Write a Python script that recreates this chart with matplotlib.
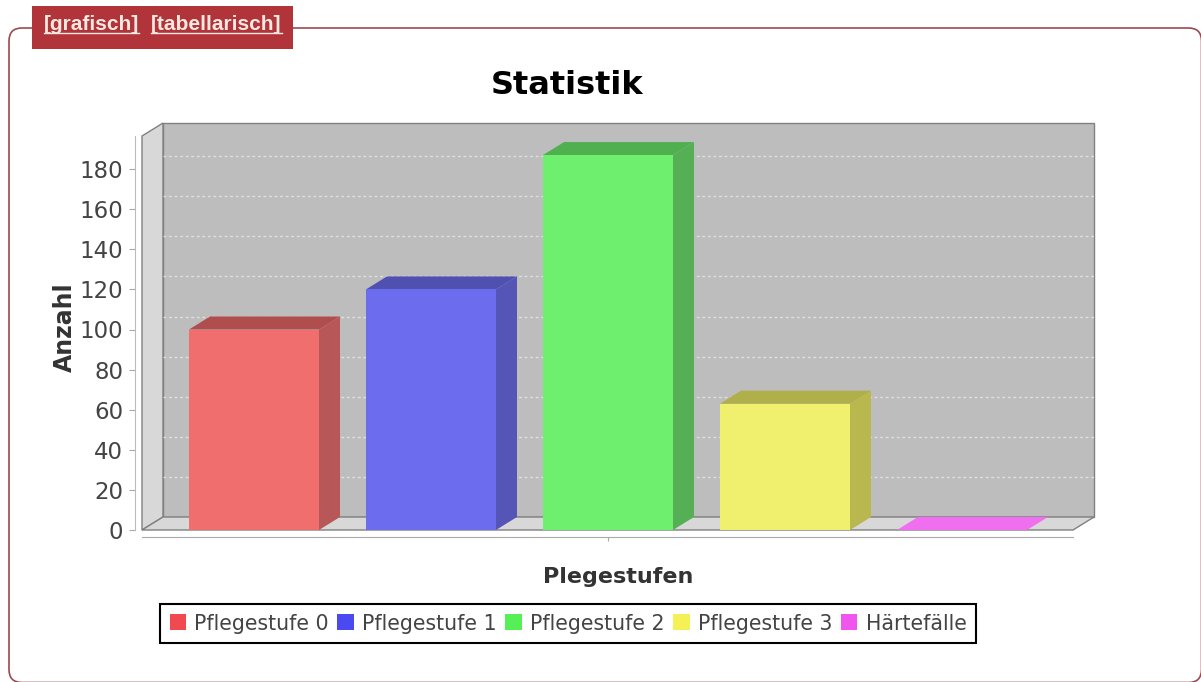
import numpy as np
import matplotlib
matplotlib.use('Agg')
import matplotlib.pyplot as plt
from matplotlib.patches import Polygon, Rectangle, FancyBboxPatch, Patch

categories = ['Pflegestufe 0', 'Pflegestufe 1', 'Pflegestufe 2', 'Pflegestufe 3', 'Härtefälle']
values = [100, 120, 187, 63, 0]
front_colors = ['#F06E6E', '#6C6CEE', '#6EF06E', '#F0F06E', '#F06EF0']
side_colors = ['#B85757', '#5555B8', '#55B055', '#B8B84E', '#B855B8']
top_colors = ['#B04E4E', '#5050B0', '#50B050', '#B0B04A', '#F06EF0']
legend_colors = ['#F04A50', '#4A4AF0', '#55F055', '#F5F055', '#F055F0']
yticks = list(range(0, 181, 20))

W, H = 1201, 682
fig = plt.figure(figsize=(W / 100, H / 100), dpi=100, facecolor='white')

# ebene in pixeln fuer rahmen und reiter
bg = fig.add_axes([0, 0, 1, 1])
bg.set_xlim(0, W)
bg.set_ylim(H, 0)
bg.axis('off')
bg.add_patch(FancyBboxPatch((9, 28), 1192.5, 654.5, boxstyle='round,pad=0,rounding_size=13',
                            fc='white', ec='#9A4A50', lw=1.2))
bg.add_patch(Rectangle((32, 6), 261, 43, fc='#B0343A', ec='none', zorder=3))
bg.text(44, 25, '[grafisch]', color='#F8E8E0', fontsize=15, family='Liberation Sans',
        weight='bold', va='center', zorder=4)
bg.text(151, 25, '[tabellarisch]', color='#F8E8E0', fontsize=15, family='Liberation Sans',
        weight='bold', va='center', zorder=4)
for x0, x1 in [(44, 139), (151, 282)]:
    bg.plot([x0, x1], [33, 33], color='#F8E8E0', lw=1, zorder=4)
bg.text(567.5, 86, 'Statistik', fontsize=23, weight='bold', ha='center', va='center',
        color='black', family='DejaVu Sans')
bg.text(618, 577, 'Plegestufen', fontsize=16, weight='bold', ha='center', va='center',
        color='#333333', family='DejaVu Sans')

# datenachse: 0 bei y=530, 180 bei y=169, kategorien 177 px auseinander
left, right, top, bottom = 142, 1073, 136, 530
ax = fig.add_axes([left / W, 1 - bottom / H, (right - left) / W, (bottom - top) / H])
ax.patch.set_visible(False)
ax.set_xlim((left - 254) / 177, (right - 254) / 177)
ax.set_ylim(0, (bottom - top) / 2.005)
x0, x1 = ax.get_xlim()
y0, y1 = ax.get_ylim()
dx = 21 / 177
dy = 13 / 2.005

# wand und boden
ax.add_patch(Rectangle((x0 + dx, dy), x1 - x0, y1, fc='#BDBDBD', ec='#808080', lw=1, clip_on=False, zorder=1))
ax.add_patch(Polygon([(x0, 0), (x0 + dx, dy), (x0 + dx, y1 + dy), (x0, y1)], fc='#D8D8D8', ec='#808080', lw=1,
                     clip_on=False, zorder=1.1))
ax.add_patch(Polygon([(x0, 0), (x0 + dx, dy), (x1 + dx, dy), (x1, 0)], fc='#D8D8D8', ec='#808080', lw=1,
                     clip_on=False, zorder=1.1))
for v in yticks[1:]:
    ax.plot([x0 + dx, x1 + dx], [v + dy, v + dy], color='#E8E8E8', lw=1, ls=(0, (2, 2)), alpha=0.8,
            clip_on=False, zorder=1.2)

# balken
xs = np.arange(len(values))
bw = 130 / 177
for i, v in enumerate(values):
    l = xs[i] - bw / 2
    r = xs[i] + bw / 2
    if v > 0:
        ax.bar(xs[i], v, bw, color=front_colors[i], zorder=3)
        ax.add_patch(Polygon([(r, 0), (r + dx, dy), (r + dx, v + dy), (r, v)], fc=side_colors[i], ec='none',
                             clip_on=False, zorder=2.5))
    ax.add_patch(Polygon([(l, v), (l + dx, v + dy), (r + dx, v + dy), (r, v)], fc=top_colors[i], ec='none',
                         clip_on=False, zorder=2.5))

# achsen versetzt wie im original
for s in ['top', 'right']:
    ax.spines[s].set_visible(False)
ax.spines['left'].set_position(('outward', 5))
ax.spines['bottom'].set_position(('outward', 5))
ax.spines['left'].set_color('#BBBBBB')
ax.spines['bottom'].set_color('#AAAAAA')
ax.set_yticks(yticks)
ax.tick_params(axis='y', labelsize=16.5, labelcolor='#444444', color='#AAAAAA', length=4, pad=4.5)
ax.set_xticks([2])
ax.set_xticklabels([''])
ax.tick_params(axis='x', color='#AAAAAA', length=3)
ax.set_ylabel('Anzahl', fontsize=17, weight='bold', color='#333333', labelpad=2, y=0.515)

handles = [Patch(fc=c, ec='none') for c in legend_colors]
leg = bg.legend(handles, categories, ncol=5, loc='center', bbox_to_anchor=(568 / W, 1 - 623.5 / H),
                bbox_transform=fig.transFigure, fontsize=14.8, fancybox=False, framealpha=1,
                edgecolor='black', handlelength=0.8, handleheight=0.8, handletextpad=0.4,
                columnspacing=0.42, borderpad=0.45, borderaxespad=0)
leg.get_frame().set_linewidth(1.5)
for t in leg.get_texts():
    t.set_color('#444444')

fig.savefig('out.png', dpi=100)
